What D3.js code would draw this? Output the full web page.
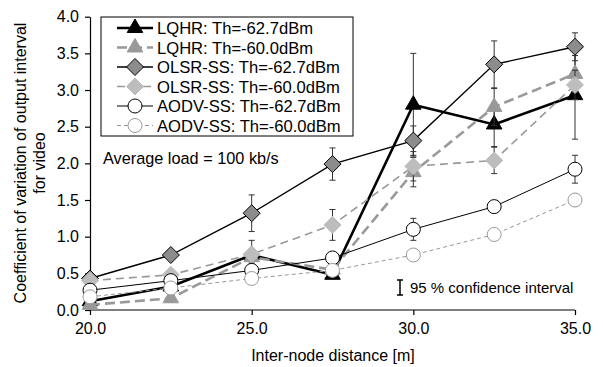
<!DOCTYPE html>
<html><head><meta charset="utf-8">
<script src="https://cdn.jsdelivr.net/npm/d3@7"></script>
<style>body{margin:0;background:#fff}svg{display:block;font-family:"Liberation Sans",Arial,sans-serif}</style>
</head><body><svg id="c" width="603" height="367"></svg>
<script>
const distances = [20.0, 22.5, 25.0, 27.5, 30.0, 32.5, 35.0];
const xTicks = [20.0, 25.0, 30.0, 35.0];
const yTicks = [0, 0.5, 1.0, 1.5, 2.0, 2.5, 3.0, 3.5, 4.0];
const seriesNames = ["LQHR: Th=-62.7dBm","LQHR: Th=-60.0dBm","OLSR-SS: Th=-62.7dBm","OLSR-SS: Th=-60.0dBm","AODV-SS: Th=-62.7dBm","AODV-SS: Th=-60.0dBm"];
const lqhr627 = [0.12, 0.32, 0.75, 0.48, 2.80, 2.53, 2.93];
const lqhr627Err = [0.05, 0.05, 0.08, 0.05, 0.70, 0.30, 0.60];
const lqhr600 = [0.07, 0.16, 0.72, 0.55, 1.88, 2.77, 3.22];
const lqhr600Err = [0.03, 0.05, 0.08, 0.05, 0.20, 0.25, 0.25];
const olsr627 = [0.43, 0.75, 1.32, 1.99, 2.31, 3.35, 3.59];
const olsr627Err = [0.05, 0.05, 0.25, 0.22, 0.20, 0.32, 0.19];
const olsr600 = [0.40, 0.48, 0.76, 1.16, 1.96, 2.04, 3.07];
const olsr600Err = [0.05, 0.05, 0.19, 0.21, 0.20, 0.18, 0.20];
const aodv627 = [0.27, 0.40, 0.54, 0.71, 1.10, 1.41, 1.92];
const aodv627Err = [0.03, 0.03, 0.05, 0.05, 0.15, 0.08, 0.19];
const aodv600 = [0.18, 0.30, 0.43, 0.54, 0.75, 1.03, 1.50];
const aodv600Err = [0.02, 0.03, 0.04, 0.04, 0.05, 0.06, 0.08];

const series = [
 {name:seriesNames[0], v:lqhr627, e:lqhr627Err, stroke:"#000", w:2.6, dash:null, shape:"tri", fill:"#000", mstroke:"#000"},
 {name:seriesNames[1], v:lqhr600, e:lqhr600Err, stroke:"#999", w:2.6, dash:"10,5", shape:"tri", fill:"#999", mstroke:"#999"},
 {name:seriesNames[2], v:olsr627, e:olsr627Err, stroke:"#000", w:1.4, dash:null, shape:"dia", fill:"#8c8c8c", mstroke:"#000"},
 {name:seriesNames[3], v:olsr600, e:olsr600Err, stroke:"#999", w:1.6, dash:"8,5", shape:"dia", fill:"#bdbdbd", mstroke:"#bdbdbd"},
 {name:seriesNames[4], v:aodv627, e:aodv627Err, stroke:"#000", w:1.0, dash:null, shape:"cir", fill:"#fff", mstroke:"#000"},
 {name:seriesNames[5], v:aodv600, e:aodv600Err, stroke:"#999", w:1.0, dash:"4,3", shape:"cir", fill:"#fff", mstroke:"#999"}
];

const svg = d3.select("#c");
const x = d3.scaleLinear().domain([20,35]).range([90,575]);
const y = d3.scaleLinear().domain([0,4]).range([310,16.7]);

const xAxis = svg.append("g").attr("transform","translate(0,310)")
  .call(d3.axisBottom(x).tickValues(xTicks).tickFormat(d3.format(".1f")).tickSizeInner(5).tickSizeOuter(0).tickPadding(8));
const yAxis = svg.append("g").attr("transform","translate(90,0)")
  .call(d3.axisLeft(y).tickValues(yTicks).tickFormat(d3.format(".1f")).tickSizeInner(5).tickSizeOuter(0).tickPadding(6));
[xAxis,yAxis].forEach(a=>{a.selectAll("path,line").attr("stroke","#000").attr("stroke-width",1.2);
  a.selectAll("text").attr("font-size",16).attr("fill","#000").attr("font-family","Liberation Sans, Arial, sans-serif");});
xAxis.select(".domain").attr("d","M90,0H575");

function symbolPath(shape){
  if(shape==="tri") return d3.symbol().type(d3.symbolTriangle).size(105)();
  if(shape==="dia") return "M0,-8.5L8.5,0L0,8.5L-8.5,0Z";
  return d3.symbol().type(d3.symbolCircle).size(Math.PI*49)();
}

series.forEach(s=>{
  const g = svg.append("g");
  const line = d3.line().x((d,i)=>x(distances[i])).y(d=>y(d));
  g.append("path").datum(s.v).attr("d",line).attr("fill","none")
    .attr("stroke",s.stroke).attr("stroke-width",s.w).attr("stroke-dasharray",s.dash);
  s.v.forEach((v,i)=>{
    const cx = x(distances[i]);
    const y1 = y(v+s.e[i]), y2 = y(v-s.e[i]);
    g.append("line").attr("x1",cx).attr("x2",cx).attr("y1",y1).attr("y2",y2).attr("stroke","#333").attr("stroke-width",1);
    [y1,y2].forEach(yy=>g.append("line").attr("x1",cx-3).attr("x2",cx+3).attr("y1",yy).attr("y2",yy).attr("stroke","#333").attr("stroke-width",1));
  });
  g.selectAll(".m").data(s.v).join("path").attr("d",symbolPath(s.shape))
    .attr("transform",(d,i)=>`translate(${x(distances[i])},${y(d)})`)
    .attr("fill",s.fill).attr("stroke",s.mstroke).attr("stroke-width",1);
});

const lg = svg.append("g");
lg.append("rect").attr("x",101).attr("y",17).attr("width",252).attr("height",119).attr("fill","#fff").attr("stroke","#000").attr("stroke-width",1);
series.forEach((s,i)=>{
  const yy = 28 + i*19.5;
  lg.append("line").attr("x1",117).attr("x2",153).attr("y1",yy).attr("y2",yy)
    .attr("stroke",s.stroke).attr("stroke-width",s.w).attr("stroke-dasharray",s.dash);
  lg.append("path").attr("d",symbolPath(s.shape)).attr("transform",`translate(135,${yy})`)
    .attr("fill",s.fill).attr("stroke",s.mstroke).attr("stroke-width",1);
  lg.append("text").attr("x",157).attr("y",yy+6).attr("font-size",16.6).text(s.name);
});

svg.append("text").attr("x",103).attr("y",164).attr("font-size",16.3).text("Average load = 100 kb/s");

const ci = svg.append("g").attr("stroke","#000").attr("stroke-width",1.5);
ci.append("line").attr("x1",400).attr("x2",400).attr("y1",280).attr("y2",295);
ci.append("line").attr("x1",397).attr("x2",403).attr("y1",280).attr("y2",280);
ci.append("line").attr("x1",397).attr("x2",403).attr("y1",295).attr("y2",295);
svg.append("text").attr("x",410).attr("y",293).attr("font-size",15).text("95 % confidence interval");

svg.append("text").attr("x",333).attr("y",361).attr("text-anchor","middle").attr("font-size",16).text("Inter-node distance [m]");
const yt = svg.append("text").attr("transform","translate(0,163) rotate(-90)").attr("text-anchor","middle").attr("font-size",16);
yt.append("tspan").attr("x",0).attr("y",26).text("Coefficient of variation of output interval");
yt.append("tspan").attr("x",0).attr("y",45).text("for video");
</script></body></html>
